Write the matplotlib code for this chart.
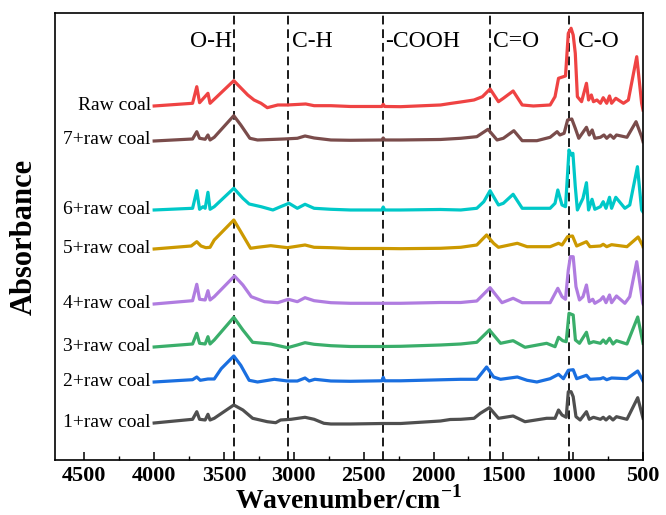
import matplotlib
matplotlib.use("Agg")
import matplotlib.pyplot as plt
from matplotlib.ticker import MultipleLocator

plt.rcParams['font.family'] = 'Liberation Serif'
plt.rcParams['mathtext.fontset'] = 'custom'
plt.rcParams['mathtext.bf'] = 'Liberation Serif:bold'
plt.rcParams['mathtext.rm'] = 'Liberation Serif'

# spectra: wavenumber (cm-1) and absorbance above each trace's own baseline
raw_wn = [4000, 3725, 3695, 3675, 3615, 3600, 3430, 3330, 3285, 3235, 3190, 3115, 3045, 2915, 2855, 2735,
          2595, 2370, 2360, 2350, 2235, 1950, 1880, 1805, 1710, 1650, 1595, 1535, 1500, 1430, 1365, 1285,
          1165, 1130, 1105, 1055, 1035, 1015, 1000, 985, 970, 940, 905, 890, 870, 855, 830, 805, 785, 760,
          740, 725, 695, 640, 605, 545, 510, 500]
raw_abs = [0.0, 0.027, 0.193, 0.033, 0.127, 0.027, 0.253, 0.11, 0.06, 0.027, -0.017, 0.01, 0.01, 0.02, 0.003, 0.003,
           -0.005, -0.005, 0.017, -0.005, -0.007, 0.01, 0.025, 0.04, 0.06, 0.093, 0.17, 0.043, 0.077, 0.15, 0.01, 0.0,
           0.01, 0.093, 0.277, 0.3, 0.727, 0.777, 0.71, 0.527, 0.093, 0.043, 0.227, 0.06, 0.11, 0.043, 0.06, 0.027, 0.083, 0.027,
           0.1, 0.027, 0.077, 0.027, 0.06, 0.493, 0.027, -0.04]

s7_wn = [4000, 3725, 3695, 3675, 3635, 3615, 3600, 3570, 3430, 3380, 3315, 3260, 3070, 2975, 2920, 2855, 2735,
         2595, 2370, 2360, 2350, 2235, 1950, 1805, 1690, 1610, 1545, 1500, 1425, 1365, 1260, 1165, 1115, 1095,
         1065, 1040, 1010, 985, 960, 905, 885, 864, 845, 805, 780, 760, 735, 710, 690, 615, 550, 510, 500]
s7_abs = [-0.01, 0.01, 0.083, 0.017, 0.007, 0.05, 0.0, 0.027, 0.243, 0.15, 0.017, 0.0, 0.01, 0.017, 0.04, 0.02, 0.0,
          -0.003, 0.0, 0.02, 0.0, 0.0, 0.005, 0.017, 0.033, 0.107, 0.0, 0.017, 0.093, -0.007, -0.007, 0.027, 0.083, 0.05,
          0.067, 0.2, 0.21, 0.117, 0.017, 0.127, 0.05, 0.1, 0.017, 0.027, 0.05, 0.017, 0.05, 0.017, 0.05, 0.027, 0.183, 0.033, -0.017]

s6_wn = [4000, 3725, 3695, 3675, 3650, 3635, 3615, 3600, 3570, 3430, 3365, 3320, 3235, 3150, 3095, 3035, 2975, 2920,
         2855, 2735, 2595, 2370, 2360, 2350, 2235, 1950, 1805, 1690, 1640, 1595, 1535, 1500, 1430, 1365, 1295,
         1165, 1130, 1110, 1080, 1055, 1040, 1030, 1014, 1002, 985, 970, 930, 905, 890, 865, 845, 805, 785, 765,
         740, 725, 695, 630, 595, 540, 510, 500]
s6_abs = [0.0, 0.017, 0.193, 0.007, 0.033, 0.017, 0.177, 0.007, 0.033, 0.217, 0.117, 0.06, 0.033, 0.0, 0.033, 0.067, 0.017, 0.057,
          0.017, 0.007, 0.0, 0.0, 0.03, 0.0, 0.0, 0.005, 0.0, 0.017, 0.083, 0.193, 0.05, 0.067, 0.157, 0.017, 0.017,
          0.017, 0.067, 0.2, 0.05, 0.033, 0.367, 0.6, 0.55, 0.567, 0.233, 0.0, 0.117, 0.273, 0.0, 0.107, 0.007, 0.033, 0.083, 0.017,
          0.127, 0.017, 0.127, 0.017, 0.05, 0.433, 0.0, -0.02]

s5_wn = [4000, 3735, 3695, 3665, 3630, 3600, 3570, 3430, 3380, 3310, 3260, 3165, 3045, 2920, 2855, 2735,
         2595, 2360, 2235, 1950, 1805, 1690, 1620, 1570, 1535, 1400, 1330, 1165, 1105, 1080, 1040, 1005, 975,
         905, 880, 805, 785, 760, 725, 615, 535, 502, 500]
s5_abs = [0.0, 0.03, 0.073, 0.03, 0.013, 0.017, 0.09, 0.29, 0.173, 0.007, 0.017, 0.033, 0.013, 0.04, 0.017, 0.013,
          0.005, 0.005, 0.003, 0.007, 0.017, 0.04, 0.14, 0.057, 0.017, 0.057, 0.023, 0.023, 0.057, 0.04, 0.123, 0.13, 0.03,
          0.073, 0.023, 0.03, 0.047, 0.023, 0.043, 0.023, 0.12, 0.033, 0.023]

s4_wn = [4000, 3725, 3695, 3675, 3635, 3615, 3600, 3570, 3425, 3365, 3305, 3210, 3115, 3040, 2975, 2920, 2855, 2735,
         2595, 2360, 2235, 1950, 1805, 1690, 1595, 1510, 1430, 1365, 1165, 1110, 1080, 1055, 1035, 1020, 1000,
         980, 955, 930, 905, 885, 860, 845, 805, 785, 765, 740, 725, 690, 630, 595, 545, 502, 500]
s4_abs = [0.0, 0.033, 0.197, 0.047, 0.04, 0.133, 0.04, 0.073, 0.28, 0.19, 0.073, 0.023, 0.013, 0.047, 0.023, 0.063, 0.033, 0.013,
          0.007, 0.007, 0.007, 0.015, 0.015, 0.03, 0.163, 0.013, 0.057, 0.013, 0.013, 0.157, 0.073, 0.047, 0.34, 0.473, 0.473,
          0.173, 0.04, 0.073, 0.19, 0.023, 0.047, 0.007, 0.04, 0.073, 0.013, 0.09, 0.013, 0.08, 0.007, 0.073, 0.423, 0.007, 0.0]

s3_wn = [4000, 3725, 3695, 3675, 3635, 3615, 3600, 3570, 3430, 3365, 3295, 3165, 3045, 2975, 2920, 2855, 2735,
         2595, 2360, 2235, 1950, 1805, 1690, 1600, 1520, 1430, 1345, 1190, 1130, 1105, 1075, 1050, 1030, 1000,
         984, 955, 905, 885, 855, 805, 785, 765, 740, 715, 690, 615, 538, 500]
s3_abs = [0.0, 0.03, 0.137, 0.037, 0.03, 0.103, 0.03, 0.07, 0.297, 0.17, 0.047, 0.03, -0.007, 0.02, 0.043, 0.027, 0.013,
          0.005, 0.005, 0.007, 0.02, 0.03, 0.047, 0.17, 0.037, 0.063, -0.003, 0.037, 0.003, 0.097, 0.063, 0.053, 0.337, 0.32,
          0.07, 0.037, 0.147, 0.037, 0.053, 0.037, 0.07, 0.037, 0.087, 0.03, 0.063, 0.03, 0.3, 0.037]

s2_wn = [4000, 3725, 3695, 3670, 3615, 3570, 3520, 3430, 3380, 3320, 3260, 3140, 3045, 2975, 2920, 2890, 2850, 2735,
         2595, 2370, 2360, 2350, 2235, 1950, 1805, 1690, 1620, 1570, 1520, 1400, 1330, 1260, 1165, 1105, 1070,
         1035, 1000, 975, 905, 880, 805, 785, 760, 725, 615, 538, 500]
s2_abs = [0.0, 0.023, 0.05, 0.017, 0.03, 0.03, 0.133, 0.26, 0.167, 0.017, 0.0, 0.027, 0.01, 0.01, 0.04, 0.01, 0.027, 0.01,
          0.007, 0.012, 0.047, 0.012, 0.012, 0.022, 0.027, 0.027, 0.15, 0.05, 0.027, 0.05, 0.017, 0.0, 0.033, 0.077, 0.033,
          0.117, 0.123, 0.033, 0.067, 0.027, 0.033, 0.043, 0.023, 0.04, 0.033, 0.11, 0.01]

s1_wn = [4000, 3725, 3695, 3675, 3635, 3615, 3600, 3570, 3430, 3365, 3295, 3190, 3130, 3095, 3020, 2920, 2855, 2785, 2735,
         2595, 2360, 2235, 1950, 1880, 1805, 1710, 1665, 1600, 1535, 1430, 1345, 1190, 1130, 1105, 1080, 1050,
         1035, 1015, 1000, 980, 950, 905, 885, 855, 805, 785, 765, 740, 715, 690, 615, 538, 500]
s1_abs = [0.0, 0.037, 0.113, 0.037, 0.03, 0.087, 0.03, 0.047, 0.18, 0.13, 0.047, 0.013, 0.003, 0.03, 0.037, 0.057, 0.037, -0.003, -0.01,
          -0.01, -0.005, -0.005, 0.02, 0.035, 0.037, 0.047, 0.097, 0.153, 0.047, 0.07, 0.013, 0.047, 0.047, 0.13, 0.08, 0.057,
          0.313, 0.313, 0.263, 0.063, 0.03, 0.113, 0.037, 0.057, 0.037, 0.057, 0.03, 0.063, 0.03, 0.063, 0.037, 0.253, 0.047]

sample_names = ["Raw coal", "7+raw coal", "6+raw coal", "5+raw coal",
                "4+raw coal", "3+raw coal", "2+raw coal", "1+raw coal"]
offsets = [3.54, 3.20, 2.50, 2.11, 1.56, 1.13, 0.78, 0.37]
colors = ["#EF4343", "#7A4C4B", "#00C8C8", "#CC9900",
          "#B07CE0", "#3AAE6A", "#1A6FE0", "#4F4F4F"]
wavenumbers = [raw_wn, s7_wn, s6_wn, s5_wn, s4_wn, s3_wn, s2_wn, s1_wn]
absorbances = [raw_abs, s7_abs, s6_abs, s5_abs, s4_abs, s3_abs, s2_abs, s1_abs]

bands = [3430, 3045, 2360, 1595, 1030]
band_labels = ["O-H", "C-H", "-COOH", "C=O", "C-O"]
band_text_x = [3445, 3010, 2345, 1574, 966]
band_align = ["right", "left", "left", "left", "left"]

fig = plt.figure(figsize=(6.66, 5.15), dpi=100)
ax = fig.add_axes([0.0826, 0.1068, 0.8829, 0.868])

for wn, ab, off, c, name in zip(wavenumbers, absorbances, offsets, colors, sample_names):
    ax.plot(wn, [a + off for a in ab], color=c, lw=2.3, solid_joinstyle='round')
    ax.text(4025, off, name, ha='right', va='center', fontsize=14)

for b in bands:
    ax.axvline(b, color='#1a1a1a', lw=1.4, dashes=(4.5, 2.5), zorder=0)

for x, lab, ha in zip(band_text_x, band_labels, band_align):
    ax.text(x, 4.18, lab, ha=ha, va='center', fontsize=17)

ax.set_xlim(4710, 500)
ax.set_ylim(0, 4.47)
ax.set_yticks([])
ax.xaxis.set_major_locator(MultipleLocator(500))
ax.xaxis.set_minor_locator(MultipleLocator(250))
ax.tick_params(axis='x', which='major', direction='in', length=6, width=1.1, pad=4, labelsize=16)
ax.tick_params(axis='x', which='minor', direction='in', length=3, width=1.0)
for lbl in ax.get_xticklabels():
    lbl.set_fontweight('bold')
for sp in ax.spines.values():
    sp.set_linewidth(1.2)

ax.set_xlabel(r'Wavenumber/cm$^{\mathbf{-1}}$', fontsize=20, fontweight='bold', labelpad=0)
ax.set_ylabel('Absorbance', fontsize=22, fontweight='bold', labelpad=12)

fig.savefig("out.png", dpi=100)
